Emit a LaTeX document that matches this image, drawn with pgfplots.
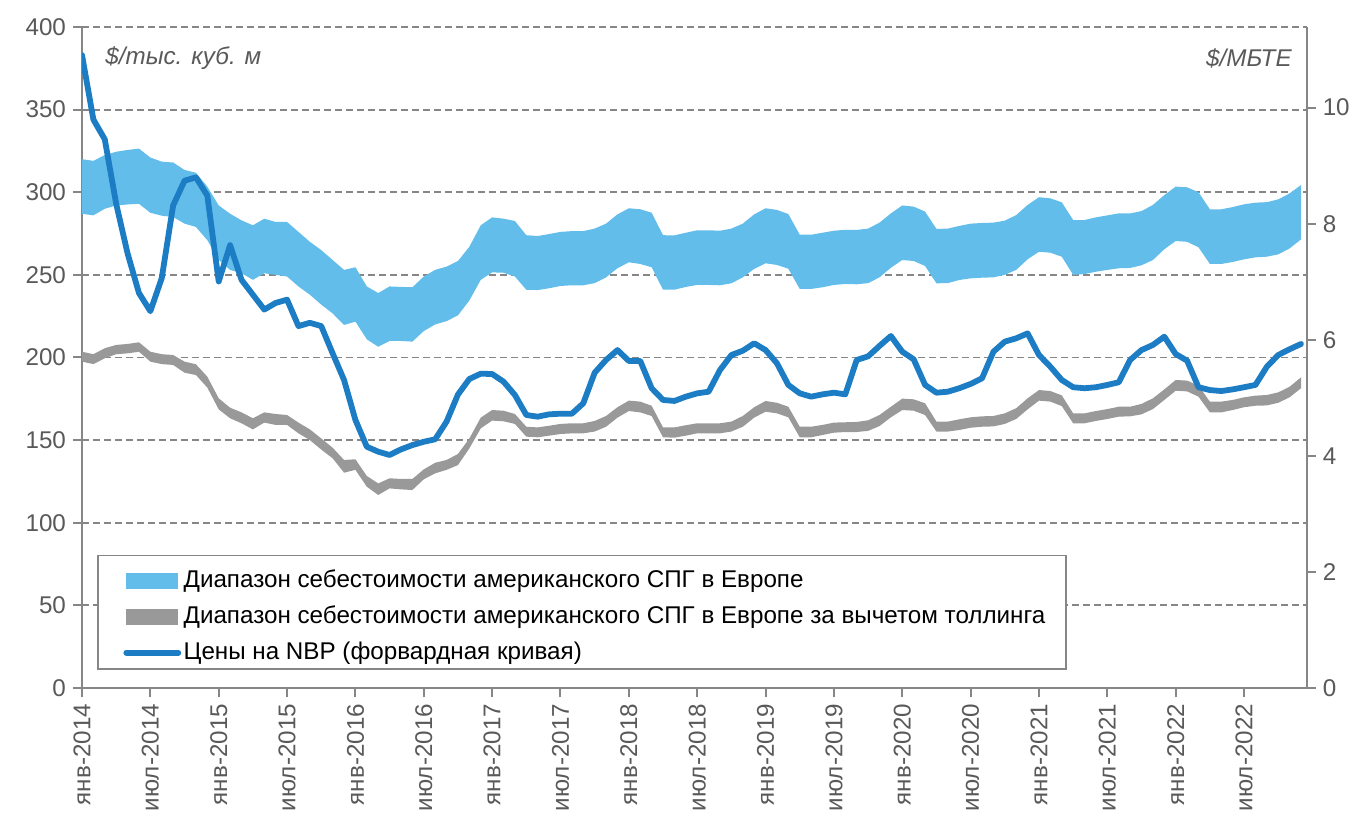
\documentclass[border=0pt]{standalone}
\usepackage{pgfplots}
\usepackage{pgfplotstable}
\usepackage{fontspec}
\setmainfont{Liberation Sans}
\pgfplotsset{compat=1.18}
\usepgfplotslibrary{fillbetween}

\definecolor{bandblue}{RGB}{99,189,234}
\definecolor{bandgrey}{RGB}{153,153,153}
\definecolor{nbpblue}{RGB}{29,125,196}
\definecolor{axgrey}{RGB}{134,134,134}
\definecolor{txtgrey}{RGB}{89,89,89}

\newcommand{\lblfont}{\fontsize{12.1}{14}\selectfont}

% m = month from Jan 2014; bu/bl = LNG cost band; gu/gl = band net of tolling; nbp = NBP forward
\pgfplotstableread{
m bu bl gu gl nbp
0 320 287 203.5 197.5 383
1 319 286 202 196 344
2 322.5 290 205.6 199.5 332
3 324.5 292 207.6 202 293
4 325.6 292.6 208.2 202.5 263
5 326.4 293 209.2 203.5 239
6 321 287.6 203.5 197.5 228
7 318.5 285.8 202 196 248
8 318 285 201.5 195.5 292
9 313.5 281 197.5 190.8 307
10 311.8 279 195.9 189.4 309
11 303.4 271 188.4 181.8 298
12 292 259 175.3 168.6 246
13 287 253 169.6 163.2 268
14 283 251 166.8 160.2 247
15 280 247 163.2 156.5 238
16 284 251 166.8 160.6 229
17 282 250 165.8 159.2 233
18 282 249 165.2 159.2 235
19 276 243 160.6 154.1 219
20 270 238 156.5 150 221
21 265 232 151 144.3 219
22 259 226.7 145.4 139 202.5
23 253 219.7 138 130.3 186.4
24 254.6 221.7 138.4 132 162.2
25 243 211 128.3 121.8 146
26 239 206.5 123.8 116.8 143
27 243 210 126.9 120.8 141
28 242.7 210 126.5 120.2 144.4
29 242.5 209.6 126.5 119.8 147
30 249 216 132.3 126.3 149
31 253 220 136.3 129.9 150.5
32 255 222 138 132 161.2
33 258.4 225.5 141.6 134.9 177.6
34 267 234.5 151 145 187
35 280 247 163.6 157.1 190.2
36 284.8 251.5 168.2 161.8 190
37 284 251.3 167.8 161.4 185.4
38 282.6 249 165.8 159.8 177.3
39 274 241 158.1 152.1 165.2
40 273.5 240.8 157.7 151.7 164.2
41 274.7 241.9 158.7 152.7 165.6
42 276 243.3 159.8 153.7 166
43 276.5 243.7 160.2 154.1 166
44 276.5 243.7 160.2 154.1 172.3
45 278 245 161.6 155.2 190.8
46 281 248.5 164.6 158.1 198.5
47 286.6 254 169.9 163.6 204.5
48 290.3 257.6 173.9 167.6 197.9
49 289.7 256.6 173.3 166.8 197.9
50 287.6 254.6 170.8 164.6 181.4
51 274 241 157.7 151.7 174.3
52 273.9 241 157.7 151.5 173.7
53 275.5 242.7 159 152.7 176.3
54 277 243.9 160.2 154.1 178.3
55 277 243.9 160.2 154.1 179.3
56 276.7 243.7 160.2 154.1 192.4
57 278 244.9 161.2 155.2 201.5
58 281 248.5 164.6 158.1 204.1
59 286.6 253.6 169.9 163.6 208.6
60 290.3 257 173.7 167.2 204.5
61 289.3 256 172.6 166.2 196.5
62 286.8 253.7 170.2 163.8 183.4
63 274.3 241.5 158.1 151.7 178.3
64 274.3 241.5 158.1 151.7 176.3
65 275.5 242.5 159.2 153.1 177.7
66 276.7 243.9 160.6 154.5 178.7
67 277.3 244.5 160.8 154.9 177.7
68 277.2 244.3 161 154.9 198.5
69 278 245 162 155.6 200.7
70 281.6 248.5 165.2 158.5 207
71 287.2 254.3 170.2 163.8 213
72 292 259 175.1 168.2 203.5
73 291.3 258.4 174.7 167.8 198.9
74 288.3 255.4 172.3 165.2 183.4
75 277.8 244.9 161.2 155.2 178.7
76 278 245 161.2 155.2 179.3
77 279.6 246.9 162.6 156.1 181.4
78 281 247.9 163.8 157.5 184
79 281.4 248.3 164.4 158.1 187.4
80 281.6 248.5 164.6 158.3 203.5
81 282.8 250 166.2 159.8 209.6
82 286.2 253 169.3 162.8 211.6
83 292.3 259.4 175.3 168.6 214.6
84 297 264 180.3 173.9 201.5
85 296.3 263.4 179.7 173.3 194.4
86 293.9 261 177.1 170.6 186.4
87 283.2 250 166.2 160.2 182
88 283.2 250.5 166.2 160.2 181.4
89 284.8 251.9 167.6 161.6 182
90 286 253 168.8 162.8 183.4
91 287.2 254 170.2 164.2 185
92 287.2 254.2 170.2 164.4 198.5
93 288.6 255.8 171.9 165.6 204.5
94 292.3 259 175.3 168.8 207.6
95 298.3 265.5 180.7 174.3 212.6
96 303.4 270.5 186.4 179.9 202.1
97 303 270 186 179.5 198.1
98 300 266.7 183 176.3 182
99 289.7 256.6 173.3 166.8 180.3
100 289.7 256.6 173.3 166.8 179.7
101 291 257.8 174.3 168.2 180.7
102 292.7 259.4 175.9 169.9 182
103 293.7 260.6 176.9 170.8 183.4
104 294 261 177.3 171 194.4
105 295.7 262.4 178.9 172.6 201.5
106 299.3 266 182.3 175.9 205
107 304.4 271.5 188 181.4 208.2
}\lngdata

\begin{document}
\begin{tikzpicture}
\begin{axis}[
  scale only axis, width=612.35pt, height=330.5pt,
  xmin=0, xmax=107.5, ymin=0, ymax=400,
  axis x line*=bottom, axis y line*=left,
  axis line style={axgrey, line width=1pt, -},
  tick style={axgrey, line width=1pt}, tick align=outside, major tick length=4.5pt,
  ytick={0,50,...,400},
  xtick={0,6,...,102},
  xticklabels={янв-2014,июл-2014,янв-2015,июл-2015,янв-2016,июл-2016,янв-2017,июл-2017,янв-2018,июл-2018,янв-2019,июл-2019,янв-2020,июл-2020,янв-2021,июл-2021,янв-2022,июл-2022},
  xticklabel style={rotate=90, anchor=east, font=\lblfont, text=txtgrey},
  yticklabel style={font=\lblfont, text=txtgrey},
  /pgf/number format/assume math mode=true,
  ymajorgrids, grid style={axgrey, dash pattern=on 3.5pt off 2pt, line width=0.9pt},
  legend style={at={(0.0335,0.1812)}, anchor=north west, draw=none, fill=none,
    inner sep=0pt, row sep=6pt, legend cell align=left,
    nodes={inner xsep=1.2pt, inner ysep=0pt, text height=9.5pt, text depth=2.5pt, font=\lblfont, text=black}},
]
\addplot[name path=bu, draw=none, forget plot] table[x=m, y=bu] {\lngdata};
\addplot[name path=bl, draw=none, forget plot] table[x=m, y=bl] {\lngdata};
\addplot[name path=gu, draw=none, forget plot] table[x=m, y=gu] {\lngdata};
\addplot[name path=gl, draw=none, forget plot] table[x=m, y=gl] {\lngdata};
\addplot[fill=bandblue, draw=none,
  legend image code/.code={\fill[bandblue] (0pt,-4pt) rectangle (26pt,4pt);}]
  fill between[of=bu and bl];
\addlegendentry{Диапазон себестоимости американского СПГ в Европе}
\addplot[fill=bandgrey, draw=none,
  legend image code/.code={\fill[bandgrey] (0pt,-4pt) rectangle (26pt,4pt);}]
  fill between[of=gu and gl];
\addlegendentry{Диапазон себестоимости американского СПГ в Европе за вычетом толлинга}
\addplot[nbpblue, line width=2.9pt, line join=round, line cap=round,
  legend image code/.code={\draw[nbpblue, line width=2.9pt, line cap=round] (0pt,0pt) -- (26pt,0pt);}]
  table[x=m, y=nbp] {\lngdata};
\addlegendentry{Цены на NBP (форвардная кривая)}
\draw[axgrey, line width=0.8pt, fill=white] (rel axis cs:0.0133,0.0283) rectangle (rel axis cs:0.8032,0.2002);
\node[anchor=west, inner sep=0pt, font=\lblfont\itshape, text=txtgrey] at (rel axis cs:0.0188,0.953) {\$/тыс. куб. м};
\node[anchor=east, inner sep=0pt, font=\lblfont\itshape, text=txtgrey] at (rel axis cs:0.988,0.953) {\$/МБТЕ};
\end{axis}
\begin{axis}[
  scale only axis, width=612.35pt, height=330.5pt,
  xmin=0, xmax=107.5, ymin=0, ymax=11.39,
  axis x line=none, axis y line*=right,
  axis line style={axgrey, line width=1pt, -},
  tick style={axgrey, line width=1pt}, tick align=outside, major tick length=4.5pt,
  ytick={0,2,...,10},
  yticklabel style={font=\lblfont, text=txtgrey},
  /pgf/number format/assume math mode=true,
]
\addplot[draw=none] coordinates {(0,0)};
\end{axis}
\pgfresetboundingbox
\path[use as bounding box] (-41pt,-62.5pt) rectangle (640.5pt,344pt);
\end{tikzpicture}
\end{document}
